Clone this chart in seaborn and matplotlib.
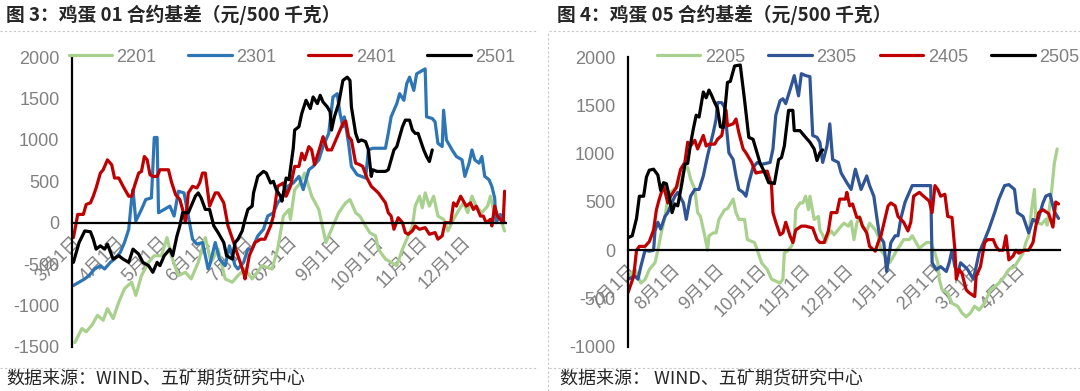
import matplotlib
matplotlib.use("Agg")
import matplotlib.pyplot as plt
import pandas as pd
import seaborn as sns
from matplotlib.lines import Line2D

sns.set_style("white")
plt.rcParams["font.family"] = ["Liberation Sans", "Noto Sans CJK SC"]
plt.rcParams["axes.unicode_minus"] = False

# ---------------- data: (days since axis start, basis value) ----------------
# Left chart: days since 1 Mar
s2201 = [(2,-1450),(7,-1280),(10,-1320),(14,-1240),(18,-1120),(22,-1180),(25,-1040),(29,-1160),(33,-960),(37,-800),
         (42,-720),(45,-880),(49,-640),(54,-480),(58,-400),(63,-400),(67,-180),(70,-400),(75,-640),(80,-600),
         (84,-680),(89,-480),(94,-180),(98,-480),(103,-320),(108,-680),(113,-720),(117,-640),(122,-560),(127,-680),
         (134,-520),(141,-560),(145,-320),(149,80),(153,160),(154,40),(157,400),(161,480),(164,600),(169,320),
         (174,160),(177,-80),(179,-240),(183,-80),(188,120),(193,240),(196,280),(200,120),(203,80),(207,-40),
         (210,-120),(214,-160),(216,-320),(221,-440),(225,-480),(229,-520),(233,-320),(236,-200),(240,-40),(242,200),
         (245,320),(247,180),(249,360),(252,200),(255,320),(258,80),(262,40),(265,-100),(269,40),(273,160),
         (276,240),(279,120),(282,320),(285,200),(289,120),(293,200),(295,320),(298,100),(302,50),(305,-100)]
s2301 = [(1,-760),(5,-720),(9,-680),(12,-640),(16,-560),(20,-520),(23,-560),(27,-480),(30,-440),(34,-360),(37,-240),
         (40,-80),(42,280),(43,400),(45,20),(49,160),(52,280),(56,300),(58,1030),(60,1030),(61,120),(65,160),(69,200),
         (72,80),(75,380),(79,360),(82,80),(85,-200),(88,-260),(92,-240),(96,-560),(97,-520),(101,-240),(104,-440),
         (108,-520),(111,-280),(115,-520),(117,-560),(121,-480),(124,-320),(127,-320),(131,-160),(135,-80),(138,80),
         (142,120),(145,240),(149,320),(152,440),(156,480),(160,560),(163,400),(167,640),(170,680),(174,760),(177,920),
         (181,1080),(184,1520),(187,1560),(189,1320),(191,1160),(192,1280),(195,960),(197,680),(201,580),(204,560),
         (207,540),(209,880),(212,900),(221,900),(223,1080),(225,1280),(229,1440),(231,1560),(234,1480),(236,1680),
         (238,1760),(241,1600),(243,1800),(245,1820),(249,1860),(250,1280),(254,1260),(256,1220),(258,960),(261,920),
         (262,1360),(264,1000),(268,880),(271,800),(275,760),(277,560),(280,720),(282,880),(284,760),(287,720),
         (289,800),(291,560),(294,520),(296,440),(298,300),(299,0),(302,100),(305,0)]
s2401 = [(1,-180),(3,0),(4,100),(8,100),(10,220),(13,240),(15,320),(17,420),(20,600),(22,640),(24,720),(25,760),
         (28,700),(30,540),(33,540),(36,440),(40,320),(42,320),(44,440),(47,600),(49,620),(51,800),(53,760),(55,580),
         (57,560),(60,560),(62,640),(68,640),(70,500),(73,340),(76,280),(78,160),(80,0),(82,360),(85,440),(88,420),
         (90,480),(92,600),(94,600),(97,200),(101,360),(103,360),(107,240),(110,-40),(114,-240),(117,-400),(121,-600),
         (122,-680),(125,-400),(129,-240),(133,-200),(136,-200),(140,-40),(142,80),(145,440),(149,480),(151,320),
         (154,440),(157,680),(160,680),(162,840),(164,760),(167,920),(169,880),(171,700),(175,920),(177,1040),(180,880),
         (183,880),(185,960),(188,1080),(191,1200),(193,1230),(195,1040),(197,1000),(200,720),(203,700),(205,680),
         (208,540),(211,440),(216,360),(221,240),(223,120),(225,80),(227,-80),(230,60),(233,0),(235,-120),(237,-140),
         (240,-100),(242,-40),(245,-80),(249,-60),(252,-140),(256,-120),(258,-200),(261,-160),(263,0),(267,0),(269,240),
         (271,200),(274,320),(276,260),(278,200),(281,240),(283,160),(285,200),(288,80),(290,80),(292,0),(295,40),
         (296,-40),(298,200),(300,80),(304,0),(305,380)]
s2501 = [(1,-480),(3,-360),(5,-240),(9,-100),(13,-110),(15,-200),(17,-320),(20,-280),(23,-320),(25,-260),(29,-440),
         (33,-400),(36,-440),(40,-480),(43,-320),(47,-380),(50,-480),(54,-520),(57,-600),(60,-480),(62,-520),(65,-400),
         (69,-320),(71,-400),(74,-160),(76,-40),(78,120),(82,120),(87,320),(89,360),(91,300),(94,160),(97,160),(100,-40),
         (103,-120),(107,-240),(109,-400),(113,-440),(115,-240),(117,-200),(120,-100),(122,40),(124,160),(127,200),
         (128,360),(131,560),(135,620),(137,600),(140,480),(142,500),(144,400),(147,320),(148,260),(151,540),(153,520),
         (156,900),(157,1120),(160,1160),(162,1320),(165,1480),(168,1380),(170,1520),(173,1440),(175,1540),(177,1460),
         (180,1400),(182,1340),(183,1120),(185,1280),(188,1440),(191,1720),(194,1760),(196,1720),(197,1400),(200,1080),
         (202,980),(204,1000),(207,980),(209,880),(210,720),(211,560),(212,640),(215,620),(221,620),(223,640),(225,760),
         (227,880),(229,920),(231,1040),(233,1160),(235,1240),(238,1240),(240,1120),(242,1080),(244,1080),(248,880),
         (250,800),(252,740),(254,880)]

# Right chart: days since 1 Jul
s2205 = [(0,-270),(5,-200),(9,-340),(12,-305),(15,-200),(19,-130),(21,0),(23,150),(26,350),(28,530),(30,600),(35,670),
         (37,700),(40,840),(42,860),(44,740),(47,630),(49,390),(51,350),(54,150),(56,0),(57,150),(60,180),(62,180),
         (64,320),(68,420),(70,430),(74,530),(76,390),(78,320),(82,320),(84,110),(89,80),(91,0),(94,-130),(98,-200),
         (101,-300),(104,-320),(107,-340),(109,-300),(110,-30),(112,-10),(115,40),(117,110),(118,420),(121,490),
         (123,490),(125,560),(127,420),(128,560),(131,320),(134,350),(135,210),(137,160),(139,80),(141,160),(143,200),
         (145,160),(150,250),(152,280),(155,250),(157,300),(159,110),(161,280),(163,350),(165,250),(168,200),(170,280),
         (174,210),(176,150),(178,0),(181,-60),(184,-130),(187,-60),(189,0),(191,40),(194,110),(198,110),(200,150),
         (205,20),(210,80),(213,80),(216,-30),(218,-130),(219,-300),(221,-410),(225,-440),(228,-550),(232,-580),
         (235,-650),(238,-690),(241,-650),(244,-580),(247,-620),(251,-550),(253,-480),(255,-410),(258,-380),(261,-340),
         (265,-270),(268,-200),(272,-170),(275,-100),(278,-30),(280,80),(282,150),(284,420),(286,630),(287,290),
         (291,270),(294,320),(295,260),(298,600),(300,900),(302,1050)]
s2305 = [(0,-300),(5,-270),(7,-300),(9,-170),(12,0),(15,-10),(18,0),(19,200),(21,290),(23,220),(26,350),(28,390),
         (30,460),(33,560),(35,600),(39,490),(41,320),(44,560),(47,630),(50,630),(53,770),(56,980),(60,1220),(62,1360),
         (63,1530),(66,1530),(68,1480),(71,1010),(74,940),(76,770),(78,630),(81,600),(83,560),(85,700),(88,860),
         (91,910),(94,890),(100,910),(102,1050),(104,1400),(107,1550),(109,1570),(111,1520),(115,1710),(117,1810),
         (120,1600),(122,1830),(125,1810),(128,1800),(130,1190),(133,1170),(135,1120),(137,910),(140,1080),(142,1310),
         (144,940),(148,910),(150,800),(154,700),(157,630),(160,840),(164,630),(168,770),(170,670),(173,560),(175,350),
         (177,150),(180,80),(182,-220),(185,80),(188,150),(190,150),(192,330),(195,500),(200,670),(205,670),(213,670),
         (214,-130),(217,-200),(220,-170),(224,-220),(226,-130),(228,0),(230,-170),(232,-240),(234,-130),(237,-170),
         (239,-200),(243,-300),(245,-170),(247,-30),(251,110),(254,220),(258,390),(261,530),(265,670),(268,680),
         (272,630),(274,390),(278,350),(282,180),(285,320),(288,290),(292,490),(294,560),(297,580),(300,400),(303,330)]
s2405 = [(0,-440),(4,-270),(6,0),(8,40),(12,40),(15,90),(18,210),(20,420),(22,530),(25,670),(28,490),(30,560),
         (34,650),(37,840),(40,910),(42,1120),(44,1080),(47,1140),(49,1050),(53,1190),(55,1080),(57,1100),(61,1100),
         (63,1150),(66,1190),(69,1450),(70,1290),(74,1310),(76,1360),(78,1220),(81,1050),(83,1010),(87,910),(90,800),
         (93,810),(98,820),(101,670),(102,390),(104,290),(107,160),(109,180),(111,290),(114,150),(116,80),(118,210),
         (122,250),(125,250),(130,230),(133,110),(135,80),(138,80),(141,200),(143,390),(147,390),(149,530),(153,530),
         (154,600),(156,460),(158,480),(161,340),(163,340),(165,250),(168,180),(170,40),(174,-10),(176,80),(178,150),
         (183,460),(185,490),(188,460),(190,350),(194,290),(197,200),(199,290),(201,560),(205,600),(208,560),(212,510),
         (214,390),(216,670),(218,630),(220,560),(223,580),(225,350),(228,340),(230,10),(231,-300),(233,-200),
         (235,-240),(238,-410),(240,-440),(244,-480),(245,-270),(248,-170),(251,80),(253,110),(257,110),(259,40),
         (261,0),(264,0),(266,150),(268,-100),(271,-60),(273,0),(275,-30),(279,0),(282,0),(285,80),(287,250),
         (289,390),(292,420),(294,400),(296,380),(299,240),(301,500),(303,480)]
s2505 = [(0,130),(3,150),(6,330),(8,560),(11,560),(13,760),(15,830),(18,840),(21,780),(23,620),(25,700),(27,690),
         (29,560),(31,390),(33,480),(35,460),(38,700),(40,890),(42,900),(44,1100),(46,1260),(48,1400),(50,1380),
         (53,1640),(55,1580),(57,1660),(59,1600),(61,1530),(63,1470),(65,1280),(67,1270),(70,1740),(72,1750),
         (75,1910),(79,1920),(82,1560),(85,1170),(88,1150),(91,1000),(93,900),(96,810),(99,700),(101,700),(103,690),
         (106,940),(108,960),(110,1080),(113,1450),(116,1450),(117,1240),(121,1240),(125,1170),(128,1120),(131,1050),
         (133,930),(135,1010),(137,1040)]

left_names = ["2201", "2301", "2401", "2501"]
right_names = ["2205", "2305", "2405", "2505"]
left_titles = "图 3：鸡蛋 01 合约基差（元/500 千克）"
right_titles = "图 4：鸡蛋 05 合约基差（元/500 千克）"
source_left = "数据来源：WIND、五矿期货研究中心"
source_right = "数据来源： WIND、五矿期货研究中心"

GRAY = "#808080"
GREEN = "#A9D18E"
RED = "#C00000"


def month_ticks(start, end):
    ms = pd.date_range(start, end, freq="MS")
    offs = [(m - ms[0]).days for m in ms]
    labels = [f"{m.month}月1日" for m in ms[:-1]] + [""]
    return offs, labels


def draw(ax, series, names, colors, start, end, ylim, leg_x, colspace):
    for s, n, c in zip(series, names, colors):
        d = pd.DataFrame(s, columns=["day", "val"])
        sns.lineplot(data=d, x="day", y="val", ax=ax, color=c, lw=2.3,
                     estimator=None, sort=False, label=n)
    offs, labels = month_ticks(start, end)
    ax.set_xlim(offs[0], offs[-1])
    ax.set_ylim(*ylim)
    ax.set_xticks(offs)
    ax.set_xticklabels(labels)
    ax.set_yticks(range(ylim[0], ylim[1] + 1, 500))
    ax.set_xlabel("")
    ax.set_ylabel("")
    for side in ["top", "right"]:
        ax.spines[side].set_visible(False)
    ax.spines["bottom"].set_position(("data", 0))
    for side in ["left", "bottom"]:
        ax.spines[side].set_color("black")
        ax.spines[side].set_linewidth(1.6)
    ax.tick_params(axis="both", colors="black", labelcolor=GRAY, labelsize=13,
                   direction="out", length=5, width=1.6)
    ax.tick_params(axis="x", pad=3, labelrotation=45)
    ax.tick_params(axis="y", pad=4)
    for lbl in ax.get_xticklabels():
        lbl.set_horizontalalignment("right")
        lbl.set_verticalalignment("top")
        lbl.set_rotation_mode("anchor")
    ax.grid(False)
    leg = ax.legend(loc="center", bbox_to_anchor=(leg_x, 1.0), ncol=4,
                    frameon=False, fontsize=13, handlelength=2.4,
                    handletextpad=0.25, columnspacing=colspace,
                    borderaxespad=0, borderpad=0)
    for t in leg.get_texts():
        t.set_color(GRAY)
    ax.patch.set_alpha(0)


fig = plt.figure(figsize=(10.8, 3.91), dpi=100)
W, H = 1080.0, 391.0
ax1 = fig.add_axes([72 / W, 1 - 346.7 / H, 434 / W, 289.4 / H])
ax2 = fig.add_axes([628 / W, 1 - 346.7 / H, 432 / W, 289.4 / H])

draw(ax1, [s2201, s2301, s2401, s2501], left_names,
     [GREEN, "#2E75B6", RED, "black"], "2021-03-01", "2022-01-01",
     (-1500, 2000), 0.507, 1.75)
draw(ax2, [s2205, s2305, s2405, s2505], right_names,
     [GREEN, "#2F5597", RED, "black"], "2021-07-01", "2022-05-01",
     (-1000, 2000), 0.556, 1.3)

cjk = ["Noto Sans CJK SC", "DejaVu Sans"]
fig.text(6 / W, 1 - 15 / H, left_titles, fontsize=13.5, fontweight="bold",
         family=cjk, va="center", ha="left")
fig.text(557 / W, 1 - 15 / H, right_titles, fontsize=13.5, fontweight="bold",
         family=cjk, va="center", ha="left")
fig.text(6 / W, 1 - 379 / H, source_left, fontsize=13, family=cjk,
         va="center", ha="left")
fig.text(560 / W, 1 - 379 / H, source_right, fontsize=13, family=cjk,
         va="center", ha="left")

dash = dict(color="#c8c8c8", lw=0.8, ls=(0, (2, 2)))
for y in (31, 367.5):
    fig.add_artist(Line2D([0, 538 / W], [1 - y / H] * 2, **dash))
    fig.add_artist(Line2D([549 / W, 1], [1 - y / H] * 2, **dash))
fig.add_artist(Line2D([548 / W] * 2, [0, 1 - 31 / H], **dash))

fig.savefig("out.png", dpi=100)
